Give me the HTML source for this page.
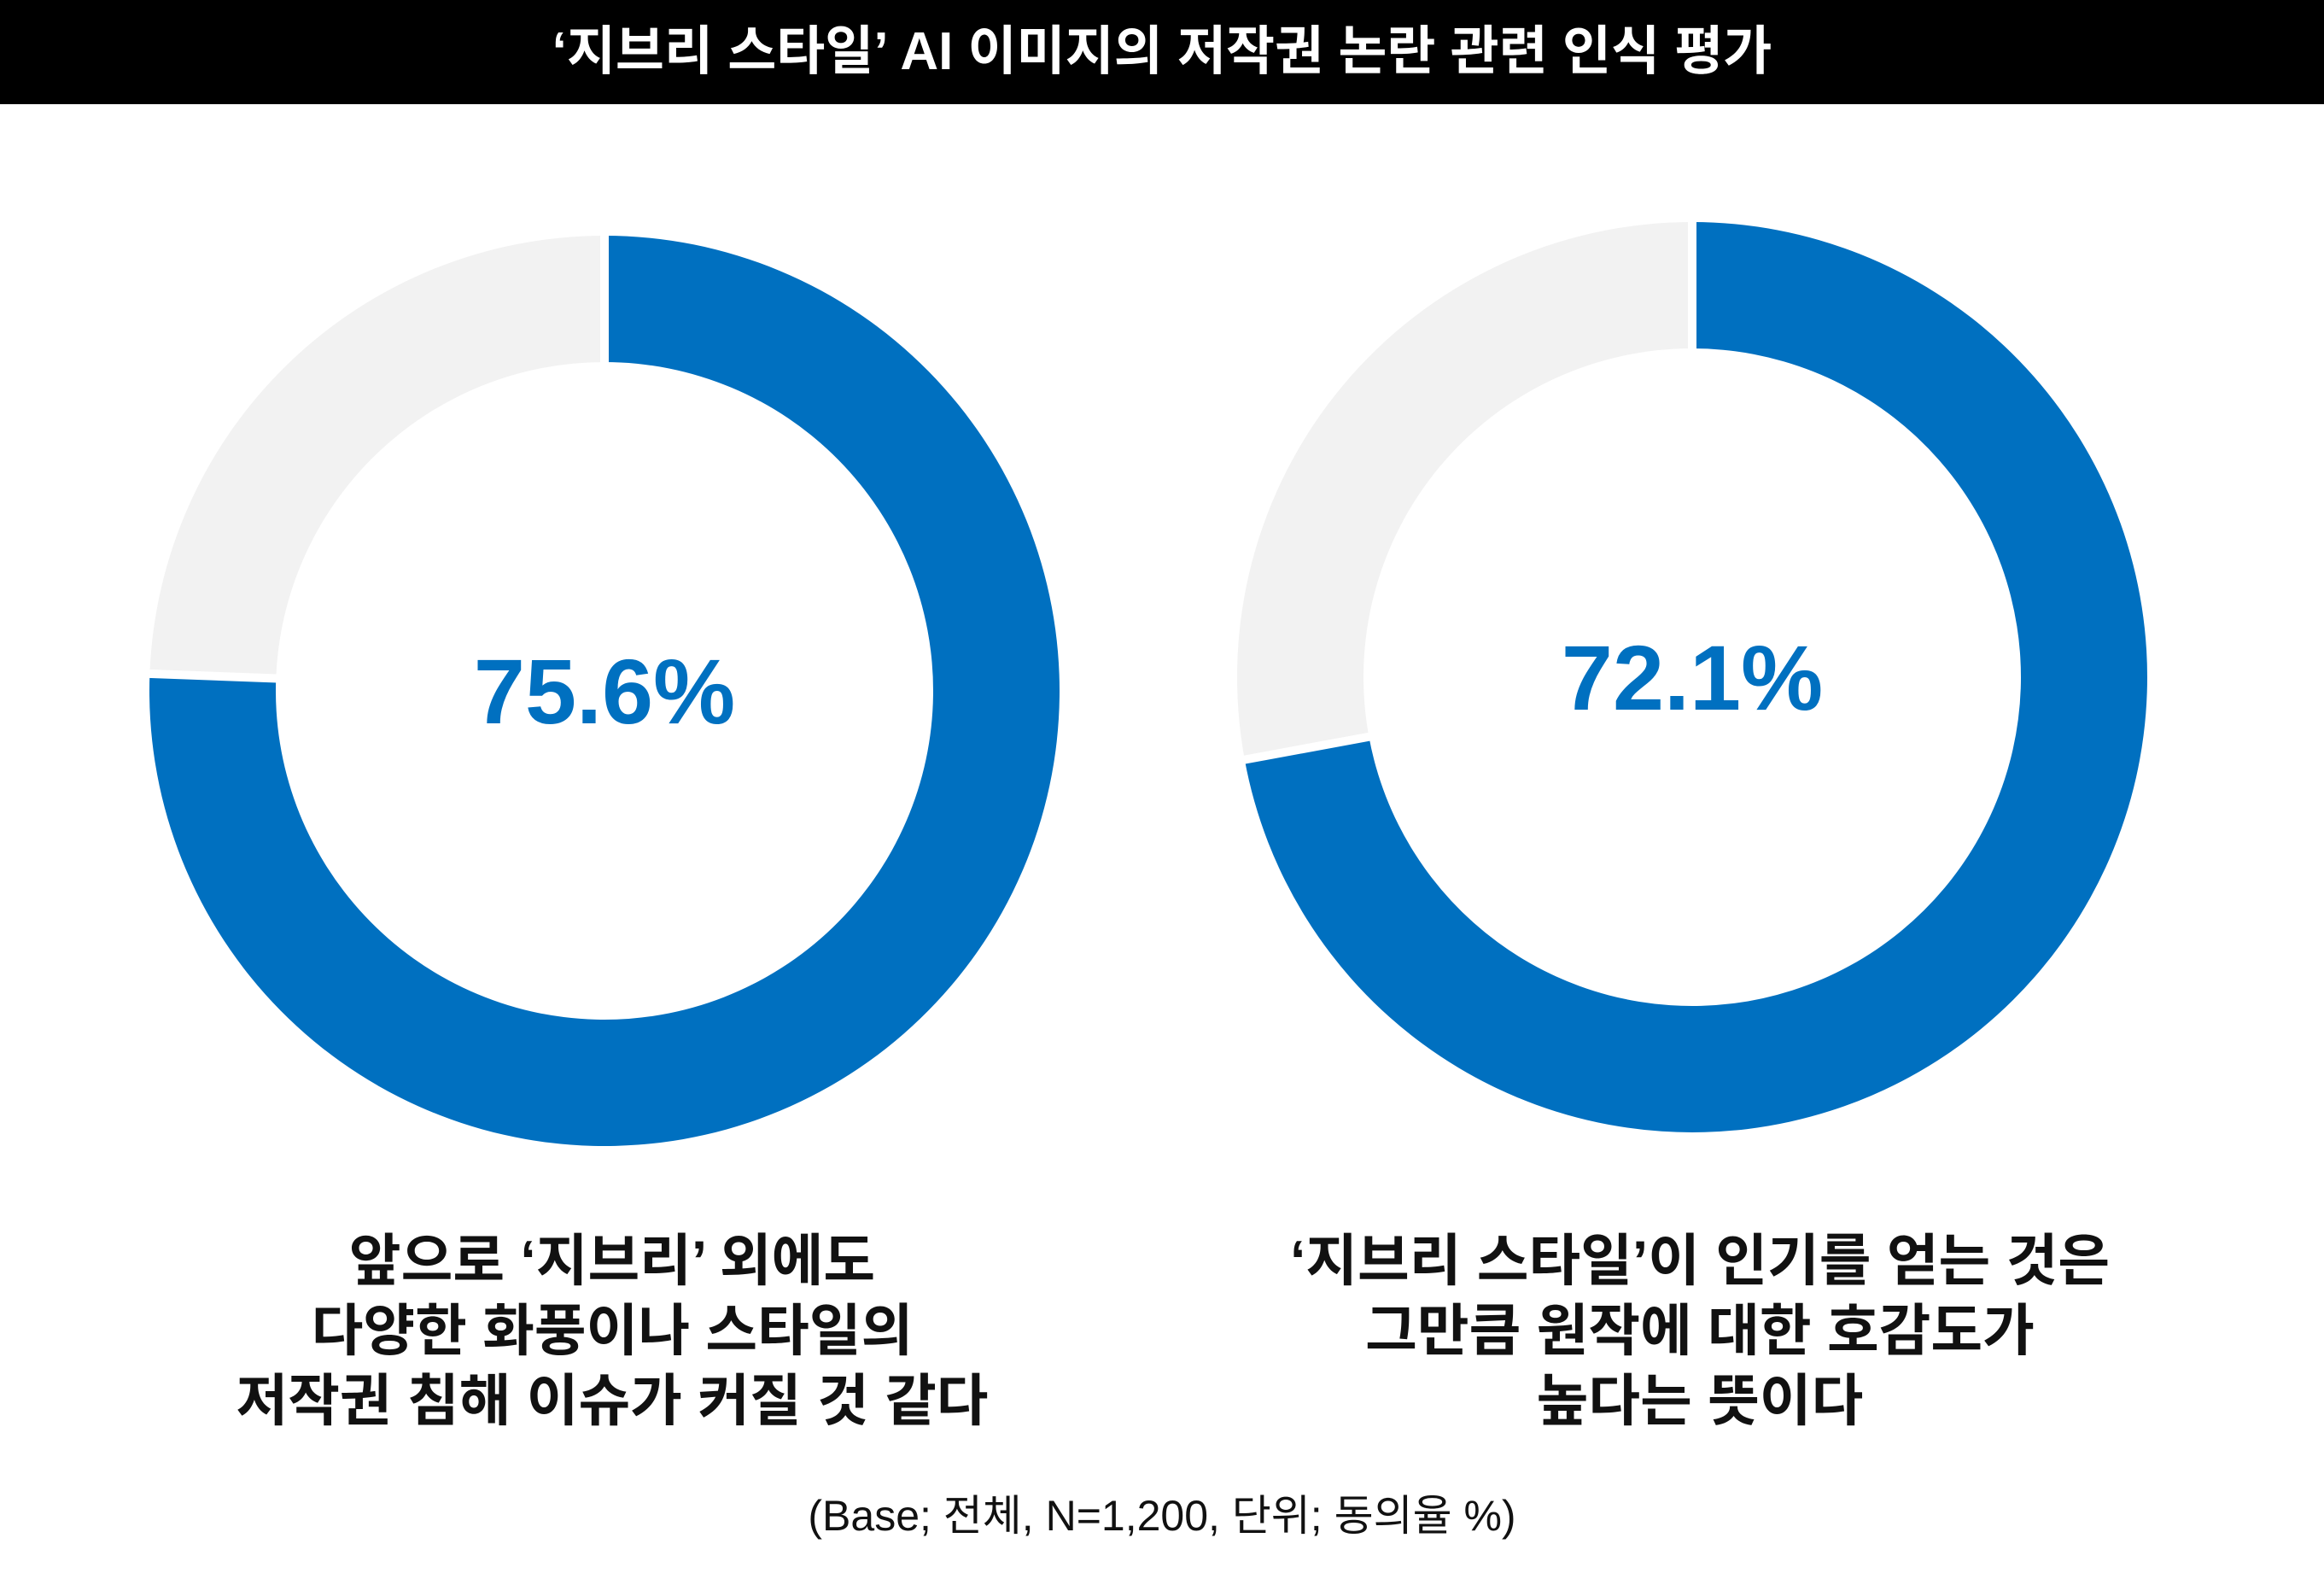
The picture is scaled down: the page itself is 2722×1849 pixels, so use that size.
<!DOCTYPE html>
<html><head><meta charset="utf-8"><style>
html,body{margin:0;padding:0;background:#fff;}
body{width:2722px;height:1849px;position:relative;overflow:hidden;font-family:"Liberation Sans","Noto Sans CJK KR",sans-serif;}
.title{position:absolute;left:0;top:0;width:2722px;height:122px;background:#000;color:#fff;font-size:62px;font-weight:bold;text-align:center;line-height:122px;}
.lbl{position:absolute;width:1200px;text-align:center;font-size:66px;font-weight:bold;line-height:82px;color:#111;}
.note{position:absolute;left:0;width:2722px;top:1735px;text-align:center;font-size:50px;color:#111;}
</style></head><body>
<div class="title">‘지브리 스타일’ AI 이미지의 저작권 논란 관련 인식 평가</div>
<svg id="chart" width="2722" height="1849" style="position:absolute;left:0;top:0"></svg>
<div class="lbl" style="left:117px;top:1435px">앞으로 ‘지브리’ 외에도<br>다양한 화풍이나 스타일의<br>저작권 침해 이슈가 커질 것 같다</div>
<div class="lbl" style="left:1391px;top:1435px">‘지브리 스타일’이 인기를 얻는 것은<br>그만큼 원작에 대한 호감도가<br>높다는 뜻이다</div>
<div class="note">(Base; 전체, N=1,200, 단위; 동의율 %)</div>
<script>
const values=[75.6,72.1];
const valueLabels=["75.6%","72.1%"];
const centers=[[708,809],[1982,793]];
const rOut=533,rIn=385;
const svg=document.getElementById('chart');
const NS='http://www.w3.org/2000/svg';
function pt(cx,cy,r,f){const a=-Math.PI/2+f*2*Math.PI;return [cx+r*Math.cos(a),cy+r*Math.sin(a)];}
function arc(cx,cy,f0,f1){
  const large=(f1-f0)>0.5?1:0;
  const a=pt(cx,cy,rOut,f0),b=pt(cx,cy,rOut,f1),c=pt(cx,cy,rIn,f1),d=pt(cx,cy,rIn,f0);
  return `M${a[0]},${a[1]}A${rOut},${rOut} 0 ${large} 1 ${b[0]},${b[1]}L${c[0]},${c[1]}A${rIn},${rIn} 0 ${large} 0 ${d[0]},${d[1]}Z`;
}
values.forEach((v,i)=>{
  const [cx,cy]=centers[i];const f=v/100;
  const g=document.createElementNS(NS,'path');
  g.setAttribute('d',arc(cx,cy,f,1));g.setAttribute('fill','#F2F2F2');
  
  
  svg.appendChild(g);
  const b=document.createElementNS(NS,'path');
  b.setAttribute('d',arc(cx,cy,0,f));b.setAttribute('fill','#0070C0');
  
  
  svg.appendChild(b);
  [0,f].forEach(ff=>{
    const p1=pt(cx,cy,rIn-5,ff),p2=pt(cx,cy,rOut+5,ff);
    const l=document.createElementNS(NS,'line');
    l.setAttribute('x1',p1[0]);l.setAttribute('y1',p1[1]);l.setAttribute('x2',p2[0]);l.setAttribute('y2',p2[1]);
    l.setAttribute('stroke','#fff');l.setAttribute('stroke-width','10');
    
    
    svg.appendChild(l);
  });
  const t=document.createElementNS(NS,'text');
  t.setAttribute('x',cx);t.setAttribute('y',cy+38);t.setAttribute('text-anchor','middle');
  t.setAttribute('font-size','108');t.setAttribute('font-weight','bold');t.setAttribute('fill','#0070C0');
  t.setAttribute('font-family','"Liberation Sans",sans-serif');
  
  
  t.textContent=valueLabels[i];
  svg.appendChild(t);
});
</script>
</body></html>
